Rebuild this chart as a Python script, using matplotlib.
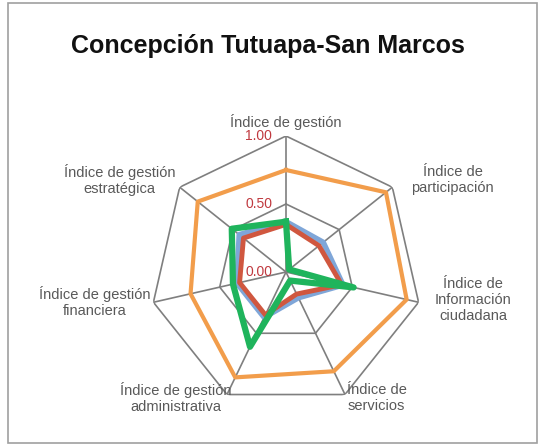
import numpy as np
import matplotlib
matplotlib.use('Agg')
import matplotlib.pyplot as plt
from matplotlib.patches import Rectangle

title = 'Concepción Tutuapa-San Marcos'
categories = [
    'Índice de gestión',
    'Índice de\nparticipación',
    'Índice de\nInformación\nciudadana',
    'Índice de\nservicios',
    'Índice de gestión\nadministrativa',
    'Índice de gestión\nfinanciera',
    'Índice de gestión\nestratégica',
]
orange_vals = [0.75, 0.94, 0.91, 0.81, 0.86, 0.72, 0.83]
blue_vals = [0.37, 0.35, 0.43, 0.21, 0.37, 0.37, 0.44]
red_vals = [0.35, 0.31, 0.42, 0.18, 0.35, 0.35, 0.40]
green_vals = [0.37, 0.03, 0.51, 0.07, 0.61, 0.40, 0.51]
tick_vals = [0.0, 0.5, 1.0]
tick_labels = ['0.00', '0.50', '1.00']

# label placement (radius, angle offset in deg) per category
label_pos = [(1.10, 0), (1.40, 9.6), (1.39, -4.4), (1.14, -10), (1.23, 15.4), (1.42, 4), (1.40, -9.6)]

plt.rcParams['font.family'] = ['Liberation Sans', 'DejaVu Sans']

fig = plt.figure(figsize=(5.42, 4.46), dpi=100)
fig.patches.append(Rectangle((8 / 542, 3 / 446), 529 / 542, 440 / 446, transform=fig.transFigure,
                             fill=False, edgecolor='#a0a0a0', linewidth=1.2))
fig.text(0.494, 1 - 46 / 446, title, ha='center', va='center', fontsize=18, fontweight='bold', color='#111111')

ax = fig.add_axes([150 / 542, 1 - 408 / 446, 272 / 542, 272 / 446], projection='polar')
ax.set_theta_zero_location('N')
ax.set_theta_direction(-1)
ax.set_ylim(0, 1)
ax.grid(False)
ax.spines['polar'].set_visible(False)
ax.set_xticks([])
ax.set_yticks([])
ax.patch.set_alpha(0)

n = len(categories)
theta = np.arange(n) * 2 * np.pi / n
theta_c = np.append(theta, theta[0])

grid_col = '#7f7f7f'
for r in [0.5, 1.0]:
    ax.plot(theta_c, [r] * (n + 1), color=grid_col, lw=1.2, zorder=1)
for t in theta:
    ax.plot([t, t], [0, 1], color=grid_col, lw=1.2, zorder=1)

def close(v):
    return list(v) + [v[0]]

ax.plot(theta_c, close(orange_vals), color='#f29d4b', lw=3, zorder=3)
ax.plot(theta_c, close(blue_vals), color='#7fa6d8', lw=4, zorder=3)
ax.plot(theta_c, close(red_vals), color='#d0573f', lw=3.5, zorder=4)
ax.plot(theta_c, close(green_vals), color='#1fb45c', lw=4.5, zorder=5)

for v, lab in zip(tick_vals, tick_labels):
    ax.annotate(lab, xy=(0, v), xytext=(-14, 0), textcoords='offset pixels',
                ha='right', va='center', fontsize=10, color='#c0393f')

for t, lab, (r, off) in zip(theta, categories, label_pos):
    ax.text(t + np.deg2rad(off), r, lab, ha='center', va='center', fontsize=10.5,
            color='#595959', linespacing=1.2)

fig.savefig('out.png', dpi=100)
